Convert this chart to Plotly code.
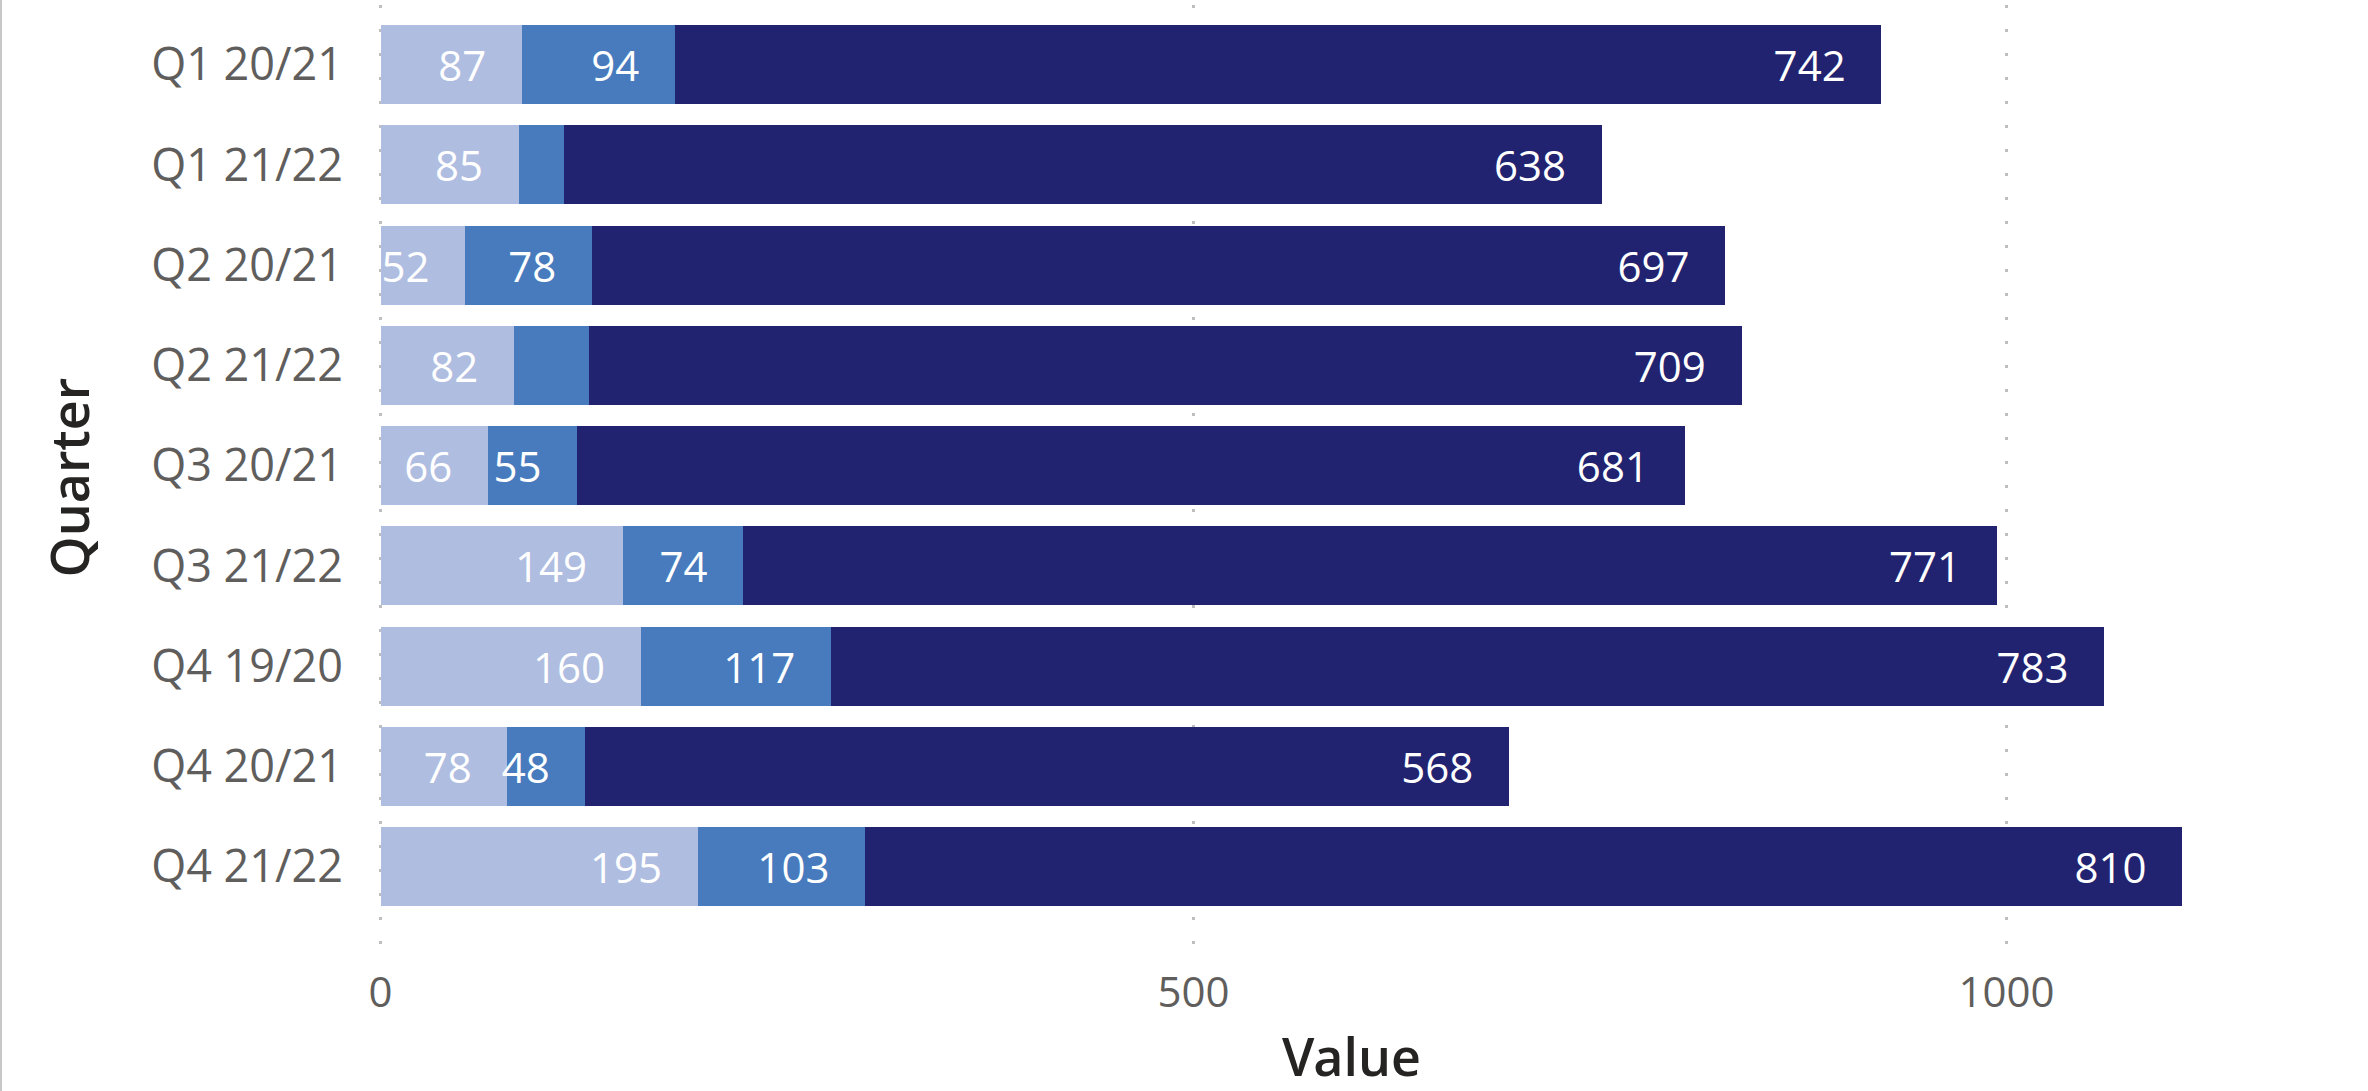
import plotly.graph_objects as go

quarters = ["Q1 20/21", "Q1 21/22", "Q2 20/21", "Q2 21/22", "Q3 20/21",
            "Q3 21/22", "Q4 19/20", "Q4 20/21", "Q4 21/22"]
series_a = [87, 85, 52, 82, 66, 149, 160, 78, 195]
series_b = [94, 28, 78, 46, 55, 74, 117, 48, 103]
series_c = [742, 638, 697, 709, 681, 771, 783, 568, 810]
series_names = ["A", "B", "C"]
colors = ["#AFBDE1", "#477BBE", "#212370"]

MIN_LABEL = 47  # labels of narrower segments do not fit and are hidden
PAD = "\u00a0\u00a0\u00a0"

W, H = 2368, 1091
ML, MR, MT, MB = 375, 40, 5, 141
plot_w = W - ML - MR
plot_h = H - MT - MB
PX_PER_UNIT = 1.626
X0 = -(380.6 - ML) / PX_PER_UNIT

fig = go.Figure()
for name, vals, col in zip(series_names, [series_a, series_b, series_c], colors):
    fig.add_trace(go.Bar(
        y=quarters, x=vals, orientation="h", name=name,
        marker=dict(color=col, line=dict(width=0)),
        text=[(str(v) + PAD) if v >= MIN_LABEL else "" for v in vals],
        textposition="inside", insidetextanchor="end",
        textangle=0, constraintext="none",
        textfont=dict(color="white", size=42, family="Segoe UI, Open Sans"),
        hoverinfo="x+y",
    ))

title_font = dict(size=52, color="#252423",
                  family="Segoe UI Semibold, Open Sans SemiBold, Open Sans")

fig.update_layout(
    barmode="stack", bargap=0.212,
    width=W, height=H,
    margin=dict(l=ML, r=MR, t=MT, b=MB, autoexpand=False),
    paper_bgcolor="white", plot_bgcolor="white",
    showlegend=False,
    font=dict(family="Segoe UI, Open Sans", size=42, color="#605E5C"),
    xaxis=dict(
        range=[X0, X0 + plot_w / PX_PER_UNIT],
        tickvals=[0, 500, 1000],
        showgrid=True, gridcolor="#BEBEBE", gridwidth=3, griddash="3px,21px",
        zeroline=False, showline=False,
        ticks="", ticklabelstandoff=14,
        tickfont=dict(size=42, color="#605E5C"),
        title=dict(text="Value", standoff=36, font=title_font),
    ),
    yaxis=dict(
        categoryorder="array", categoryarray=quarters,
        range=[8.833, -0.594],
        showgrid=False, zeroline=False, showline=False, ticks="",
        ticklabelstandoff=31,
        tickfont=dict(size=45, color="#605E5C"),
        title=dict(text="Quarter", standoff=44, font=title_font),
    ),
    shapes=[dict(type="line", xref="paper", yref="paper",
                 x0=(1 - ML) / plot_w, x1=(1 - ML) / plot_w,
                 y0=-MB / plot_h, y1=1 + MT / plot_h,
                 line=dict(color="#C8C8C8", width=2))],
)

fig.write_html("out.html")
